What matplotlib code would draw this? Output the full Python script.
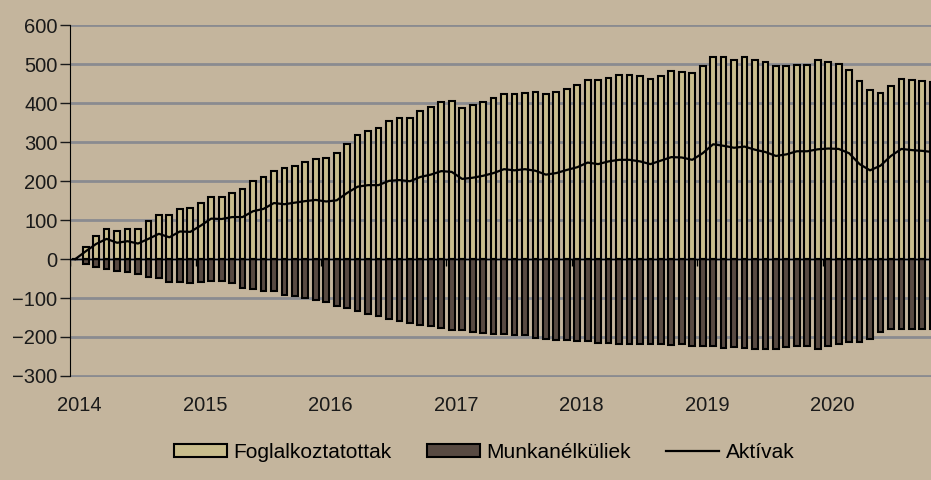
import numpy as np
import matplotlib.pyplot as plt
from matplotlib.patches import Patch
from matplotlib.lines import Line2D

plt.rcParams['font.family'] = ['Liberation Sans', 'DejaVu Sans']

# monthly change since Jan 2014 (thousand persons), Jan 2014 .. Nov 2020
foglalkoztatottak = [
    0, 32, 59, 78, 72, 78, 78, 99, 114, 114, 129, 131,
    144, 160, 160, 170, 181, 200, 210, 227, 233, 240, 250, 256,
    259, 272, 296, 320, 330, 337, 354, 363, 363, 380, 390, 403,
    407, 389, 397, 403, 413, 424, 424, 427, 430, 423, 430, 438,
    447, 459, 459, 466, 472, 472, 470, 463, 470, 482, 480, 478,
    495, 518, 518, 511, 518, 511, 505, 495, 495, 499, 499, 512,
    506, 502, 485, 457, 434, 427, 444, 462, 459, 457, 455,
]
munkanelkuliek = [
    0, -12, -20, -26, -30, -32, -38, -47, -49, -58, -58, -61,
    -58, -56, -57, -62, -73, -77, -81, -83, -92, -95, -101, -104,
    -111, -121, -126, -134, -140, -147, -153, -160, -163, -169, -173, -177,
    -183, -183, -188, -189, -192, -193, -196, -196, -203, -206, -209, -209,
    -211, -211, -215, -215, -217, -217, -219, -219, -217, -220, -219, -223,
    -223, -223, -227, -225, -229, -230, -230, -230, -226, -222, -222, -230,
    -222, -219, -213, -213, -206, -187, -179, -179, -179, -179, -180,
]
aktivak = [
    0, 20, 39, 52, 42, 46, 40, 52, 65, 56, 71, 70,
    86, 104, 103, 108, 108, 123, 129, 144, 141, 145, 149, 152,
    148, 151, 170, 186, 190, 190, 201, 203, 200, 211, 217, 226,
    224, 206, 209, 214, 221, 231, 228, 231, 227, 217, 221, 229,
    236, 248, 244, 251, 255, 255, 251, 244, 253, 262, 261, 255,
    272, 295, 291, 286, 289, 281, 275, 265, 269, 277, 277, 282,
    284, 283, 272, 244, 228, 240, 265, 283, 280, 278, 275,
]
years = [2014, 2015, 2016, 2017, 2018, 2019, 2020]

bg = '#c4b59d'
x = np.arange(len(foglalkoztatottak)) + 0.5
year_pos = np.arange(len(years)) * 12

fig = plt.figure(figsize=(9.31, 4.8), dpi=100, facecolor=bg)
ax = fig.add_axes([0.0752, 0.2152, 0.9248, 0.7333], facecolor=bg)

ax.bar(x, foglalkoztatottak, width=0.55, color='#c9bd8d', edgecolor='black',
       linewidth=1.5, zorder=2)
ax.bar(x, munkanelkuliek, width=0.55, color='#584a42', edgecolor='black',
       linewidth=1.5, zorder=2)
ax.plot(x, aktivak, color='black', linewidth=1.6, zorder=4)
ax.axhline(0, color='black', linewidth=1, zorder=3)
ax.vlines(year_pos, -17, 0, color='black', linewidth=1, zorder=3)

ax.set_xlim(0, 82.33)
ax.set_ylim(-302, 602)
ax.set_yticks(range(-300, 601, 100))
ax.set_xticks(year_pos + 0.9)
ax.set_xticklabels([str(y) for y in years])
ax.grid(axis='y', color='#8a8b90', linewidth=2, zorder=0)
ax.set_axisbelow(True)

for s in ['top', 'right', 'bottom']:
    ax.spines[s].set_visible(False)
ax.spines['left'].set_color('black')
ax.spines['left'].set_bounds(-300, 600)
ax.tick_params(axis='y', length=7, width=1, pad=2, labelsize=14.5, colors='#1a1a1a')
ax.tick_params(axis='x', length=0, pad=14, labelsize=14.5, colors='#1a1a1a')

handles = [
    Patch(facecolor='#c9bd8d', edgecolor='black', linewidth=1.5, label='Foglalkoztatottak'),
    Patch(facecolor='#584a42', edgecolor='black', linewidth=1.5, label='Munkanélküliek'),
    Line2D([0], [0], color='black', linewidth=1.6, label='Aktívak'),
]
fig.legend(handles=handles, loc='center', bbox_to_anchor=(0.52, 0.058), ncol=3,
           frameon=False, fontsize=15, handlelength=2.55, handleheight=0.6,
           handletextpad=0.3, columnspacing=1.7)

fig.savefig('out.png', dpi=100, facecolor=bg)
